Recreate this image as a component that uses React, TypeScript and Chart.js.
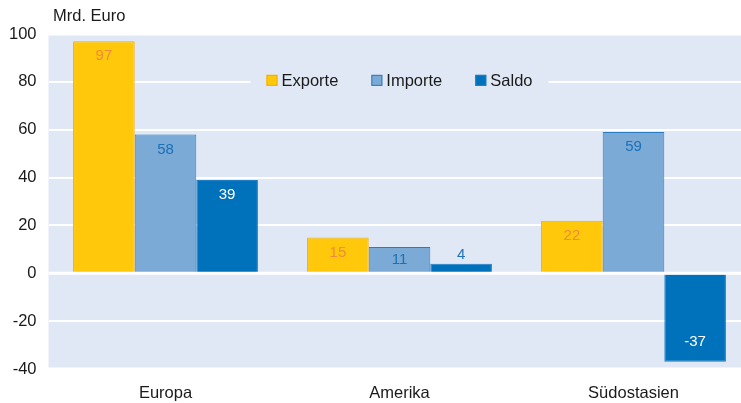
import React, { useEffect, useRef } from "react";
import { Chart, registerables } from "chart.js";

Chart.register(...registerables);

const categories = ["Europa", "Amerika", "Südostasien"];
const seriesNames = ["Exporte", "Importe", "Saldo"];
const exporte = [97, 15, 22];
const importe = [58, 11, 59];
const saldo = [39, 4, -37];
const yTicks = [100, 80, 60, 40, 20, 0, -20, -40];
const unitLabel = "Mrd. Euro";

const FONT = '"Liberation Sans", Arial, sans-serif';
const BG = "#e1e8f5";
const TEXT = "#1a1a1a";
const fills = ["#ffc80b", "#7aaad5", "#0072bc"];
const borders = ["#f4ad00", "#2a7cc2", "#1f7ec6"];
const labelColors = ["#f28a3a", "#1c70b8", "#ffffff"];
const outsideLabelColor = "#1f72bb";

export default function App() {
  const ref = useRef<HTMLCanvasElement | null>(null);
  useEffect(() => {
    const canvas = ref.current!;
    const bgPlugin = {
      id: "bg",
      beforeDraw(chart: any) {
        const { ctx, chartArea: a } = chart;
        ctx.save();
        ctx.fillStyle = BG;
        ctx.fillRect(a.left, a.top + 1.5, a.right - a.left, a.bottom - a.top - 3);
        ctx.restore();
      },
    };
    const overlayPlugin = {
      id: "overlay",
      afterDatasetsDraw(chart: any) {
        const { ctx, chartArea: a, scales } = chart;
        const y = scales.y;
        ctx.save();
        // zero line
        const y0 = y.getPixelForValue(0);
        ctx.strokeStyle = "#ffffff";
        ctx.lineWidth = 3;
        ctx.beginPath();
        ctx.moveTo(a.left, y0);
        ctx.lineTo(a.right, y0);
        ctx.stroke();
        // value labels
        ctx.font = `15px ${FONT}`;
        ctx.textAlign = "center";
        ctx.textBaseline = "middle";
        chart.data.datasets.forEach((ds: any, di: number) => {
          const meta = chart.getDatasetMeta(di);
          meta.data.forEach((el: any, i: number) => {
            const v = ds.data[i];
            const h = Math.abs(el.base - el.y);
            let ty: number;
            let col = labelColors[di];
            if (h < 18) {
              ty = el.y - 9;
              col = outsideLabelColor;
            } else if (v >= 0) {
              ty = el.y + Math.min(15, h / 2);
            } else {
              ty = el.y - 20;
            }
            ctx.fillStyle = col;
            ctx.fillText(String(v), el.x, ty);
          });
        });
        // legend
        ctx.font = `16.5px ${FONT}`;
        const box = 11, gap = 4, spacing = 33, pad = 16;
        const widths = seriesNames.map((n) => ctx.measureText(n).width);
        const total = widths.reduce((s, w) => s + box + gap + w, 0) + spacing * (seriesNames.length - 1);
        const cx = (a.left + a.right) / 2;
        const cy = y.getPixelForValue(80) - 1.5;
        let x = cx - total / 2;
        ctx.fillStyle = BG;
        ctx.fillRect(x - pad, cy - 10, total + pad * 2, 20);
        ctx.textAlign = "left";
        seriesNames.forEach((n, i) => {
          ctx.fillStyle = fills[i];
          ctx.fillRect(x, cy - box / 2, box, box);
          ctx.strokeStyle = borders[i];
          ctx.lineWidth = 1;
          ctx.strokeRect(x + 0.5, cy - box / 2 + 0.5, box - 1, box - 1);
          ctx.fillStyle = TEXT;
          ctx.fillText(n, x + box + gap, cy + 1);
          x += box + gap + widths[i] + spacing;
        });
        // unit label
        ctx.fillStyle = TEXT;
        ctx.fillText(unitLabel, 53, 16);
        ctx.restore();
      },
    };
    const chart = new Chart(canvas, {
      type: "bar",
      data: {
        labels: categories,
        datasets: [exporte, importe, saldo].map((d, i) => ({
          label: seriesNames[i],
          data: d,
          backgroundColor: fills[i],
          borderColor: borders[i],
          borderWidth: 1,
          categoryPercentage: 0.79,
          barPercentage: 1,
        })),
      },
      options: {
        responsive: false,
        animation: false,
        layout: { padding: { top: 34, right: 0.5, bottom: 0, left: 0 } },
        plugins: { legend: { display: false }, tooltip: { enabled: false }, title: { display: false } },
        scales: {
          x: {
            grid: { display: false, drawTicks: false },
            border: { display: false },
            ticks: { color: TEXT, font: { family: FONT, size: 16.5 }, padding: 15 },
            afterFit(s: any) { s.height = 34; },
          },
          y: {
            min: -40,
            max: 100,
            afterBuildTicks(s: any) { s.ticks = yTicks.map((v) => ({ value: v })); },
            grid: {
              color: "#ffffff",
              drawTicks: false,
              lineWidth: (c: any) => (c.tick && (c.tick.value === 100 || c.tick.value === -40) ? 0 : 2),
            },
            border: { display: false },
            ticks: { color: TEXT, font: { family: FONT, size: 16.5 }, padding: 12 },
            afterFit(s: any) { s.width = 48.5; },
          },
        },
      },
      plugins: [bgPlugin, overlayPlugin],
    });
    return () => chart.destroy();
  }, []);
  return (
    <div style={{ position: "fixed", left: 0, top: 0, width: 741, height: 403, overflow: "hidden", background: "#fff" }}>
      <canvas ref={ref} width={751} height={403} style={{ display: "block" }} />
    </div>
  );
}
